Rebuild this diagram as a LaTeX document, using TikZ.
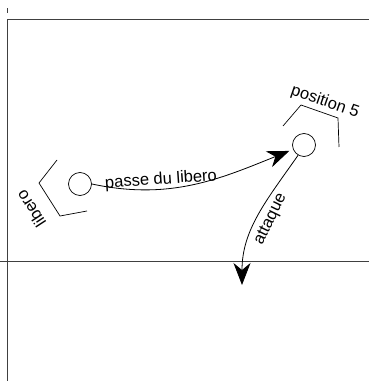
\documentclass[tikz,border=0pt]{standalone}
\usepackage{fontspec}
\setmainfont{Liberation Sans}
\usetikzlibrary{arrows.meta}

\tikzset{
  spieler/.style={draw, circle, minimum size=23pt, inner sep=0pt, line width=0.7pt},
  feld/.style={draw=black!75, line width=1pt},
  winkel/.style={draw, line width=0.7pt},
  beschriftung/.style={font=\fontsize{16.5}{19}\selectfont, inner sep=0pt},
  ball/.style={draw, line width=0.8pt, -{Stealth[length=22pt, width=17pt, inset=7pt]}}
}

\begin{document}
\begin{tikzpicture}[x=1pt, y=1pt]
	\useasboundingbox (0, 0) rectangle (369, 381);
	% Spielfeld
	\draw [feld] (7, 0) -- (7, 361) -- (369, 361);
	\draw [feld] (7, 368) -- (7, 373);
	\draw [feld] (0, 119) -- (369, 119);
	% Spieler
	\node [spieler] (libero) at (80, 197) {};
	\node [spieler] (pos5) at (304, 236) {};
	% Winkel
	\draw [winkel] (57, 221) -- (39, 198) -- (60, 165) -- (87, 170);
	\draw [winkel] (283, 255) -- (301, 276) -- (338, 263) -- (339, 234);
	% Labels
	\node [beschriftung, rotate=123] (liblabel) at (31, 172) {libero};
	\node [beschriftung, rotate=-19] (poslabel) at (325, 279) {position 5};
	% Pfeile
	\coordinate (ziel) at (242, 96);
	\draw [ball, shorten >=4pt] (libero.east) to [out=-12, in=202]
		node [beschriftung, pos=0.33, above=1pt, rotate=4] (passelabel) {passe du libero} (pos5);
	\draw [ball] (pos5.240) to [out=-125, in=90]
		node [beschriftung, pos=0.5, right=6pt, rotate=64, anchor=north] (attlabel) {attaque} (ziel);
\end{tikzpicture}
\end{document}
